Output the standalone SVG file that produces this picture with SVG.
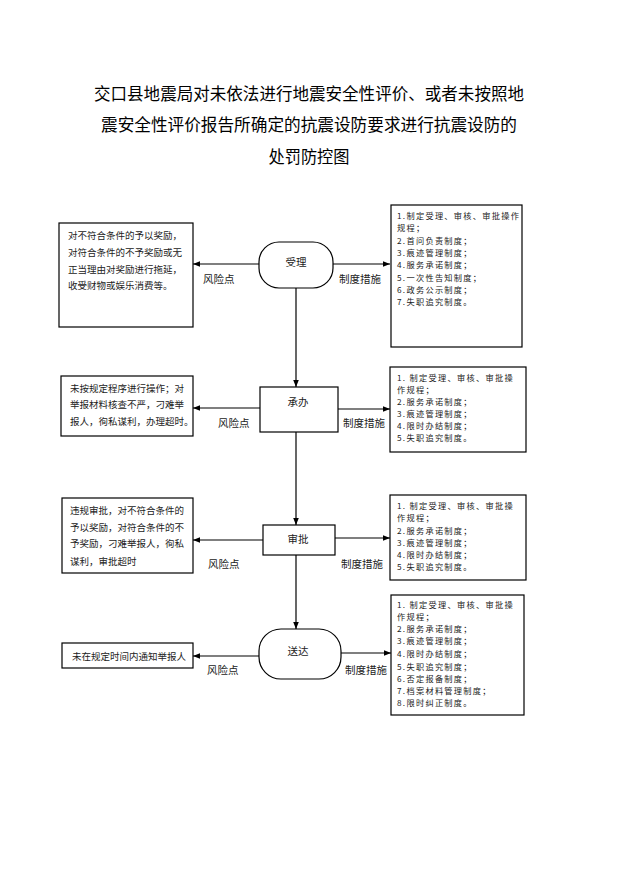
<svg xmlns="http://www.w3.org/2000/svg" width="621" height="878" viewBox="0 0 621 878">
<defs>
<marker id="ah" viewBox="0 0 10 10" refX="10" refY="5" markerWidth="7" markerHeight="7" markerUnits="userSpaceOnUse" orient="auto">
<path d="M0,1 L10,5 L0,9 z" fill="#000"/>
</marker>
<style>
.t{font-family:"Noto Sans CJK SC","Liberation Serif",serif;font-size:16.5px;fill:#000;text-anchor:middle}
.b{fill:#fff;stroke:#000;stroke-width:1.2}
.s{font-family:"Noto Sans CJK SC","Liberation Sans",sans-serif;font-size:9.5px;fill:#222}
.m{font-family:"Noto Sans CJK SC","Liberation Sans",sans-serif;font-size:8.2px;letter-spacing:1.3px;fill:#222}
.n{font-family:"Noto Sans CJK SC","Liberation Sans",sans-serif;font-size:10.5px;fill:#222;text-anchor:middle}
.l{font-family:"Noto Sans CJK SC","Liberation Sans",sans-serif;font-size:10.5px;fill:#222}
.c{fill:none;stroke:#000;stroke-width:1.2}
</style>
</defs>
<rect width="621" height="878" fill="#fff"/>
<g id="title">
<text class="t" x="309" y="100" textLength="430" lengthAdjust="spacingAndGlyphs">交口县地震局对未依法进行地震安全性评价、或者未按照地</text>
<text class="t" x="309" y="131" textLength="416" lengthAdjust="spacingAndGlyphs">震安全性评价报告所确定的抗震设防要求进行抗震设防的</text>
<text class="t" x="309" y="163" textLength="81" lengthAdjust="spacingAndGlyphs">处罚防控图</text>
</g>
<g id="connectors">
<line class="c" x1="296" y1="288" x2="296" y2="387" marker-end="url(#ah)"/>
<line class="c" x1="296" y1="432" x2="296" y2="525" marker-end="url(#ah)"/>
<line class="c" x1="296" y1="555" x2="296" y2="629" marker-end="url(#ah)"/>
<line class="c" x1="259" y1="264" x2="193" y2="264" marker-end="url(#ah)"/>
<line class="c" x1="333" y1="264" x2="390" y2="264" marker-end="url(#ah)"/>
<line class="c" x1="260" y1="408" x2="193" y2="408" marker-end="url(#ah)"/>
<line class="c" x1="338" y1="409" x2="390" y2="409" marker-end="url(#ah)"/>
<line class="c" x1="263" y1="540" x2="193" y2="540" marker-end="url(#ah)"/>
<line class="c" x1="335" y1="538" x2="390" y2="538" marker-end="url(#ah)"/>
<line class="c" x1="259" y1="656" x2="193" y2="656" marker-end="url(#ah)"/>
<line class="c" x1="341" y1="653" x2="391" y2="653" marker-end="url(#ah)"/>
<text class="l" x="203" y="283">风险点</text>
<text class="l" x="339" y="283">制度措施</text>
<text class="l" x="218" y="427">风险点</text>
<text class="l" x="343" y="427">制度措施</text>
<text class="l" x="208" y="568">风险点</text>
<text class="l" x="341" y="568">制度措施</text>
<text class="l" x="207" y="674">风险点</text>
<text class="l" x="345" y="674">制度措施</text>
</g>
<g id="node-shouli">
<rect class="b" x="259" y="242" width="74" height="46" rx="20" ry="20"/>
<text class="n" x="296" y="266">受理</text>
</g>
<g id="node-chengban">
<rect class="b" x="260" y="387" width="78" height="45"/>
<text class="n" x="298" y="406">承办</text>
</g>
<g id="node-shenpi">
<rect class="b" x="263" y="525" width="72" height="30"/>
<text class="n" x="298" y="543">审批</text>
</g>
<g id="node-songda">
<rect class="b" x="259" y="629" width="82" height="50" rx="22" ry="22"/>
<text class="n" x="298" y="655">送达</text>
</g>
<g id="risk-1">
<rect class="b" x="59" y="223" width="134" height="104"/>
<text class="s" x="68" y="239">对不符合条件的予以奖励，</text>
<text class="s" x="68" y="256">对符合条件的不予奖励或无</text>
<text class="s" x="68" y="273">正当理由对奖励进行拖延，</text>
<text class="s" x="68" y="289">收受财物或娱乐消费等。</text>
</g>
<g id="risk-2">
<rect class="b" x="61" y="376" width="132" height="60"/>
<text class="s" x="70" y="392">未按规定程序进行操作；对</text>
<text class="s" x="70" y="408">举报材料核查不严，刁难举</text>
<text class="s" x="70" y="425">报人，徇私谋利，办理超时。</text>
</g>
<g id="risk-3">
<rect class="b" x="62" y="498" width="131" height="75"/>
<text class="s" x="70" y="514">违规审批，对不符合条件的</text>
<text class="s" x="70" y="531">予以奖励，对符合条件的不</text>
<text class="s" x="70" y="547">予奖励，刁难举报人，徇私</text>
<text class="s" x="70" y="565">谋利，审批超时</text>
</g>
<g id="risk-4">
<rect class="b" x="62" y="643" width="131" height="25"/>
<text class="s" x="72" y="660">未在规定时间内通知举报人</text>
</g>
<g id="measure-1">
<rect class="b" x="391" y="205" width="131" height="142"/>
<text class="m" x="397" y="219">1.制定受理、审核、审批操作</text>
<text class="m" x="397" y="231">规程；</text>
<text class="m" x="397" y="244">2.首问负责制度；</text>
<text class="m" x="397" y="256">3.痕迹管理制度；</text>
<text class="m" x="397" y="268">4.服务承诺制度；</text>
<text class="m" x="397" y="281">5.一次性告知制度；</text>
<text class="m" x="397" y="293">6.政务公示制度；</text>
<text class="m" x="397" y="305">7.失职追究制度。</text>
</g>
<g id="measure-2">
<rect class="b" x="390" y="367" width="136" height="85"/>
<text class="m" x="397" y="381">1. 制定受理、审核、审批操</text>
<text class="m" x="397" y="393">作规程；</text>
<text class="m" x="397" y="405">2.服务承诺制度；</text>
<text class="m" x="397" y="417">3.痕迹管理制度；</text>
<text class="m" x="397" y="429">4.限时办结制度；</text>
<text class="m" x="397" y="441">5.失职追究制度。</text>
</g>
<g id="measure-3">
<rect class="b" x="390" y="495" width="136" height="85"/>
<text class="m" x="397" y="509">1. 制定受理、审核、审批操</text>
<text class="m" x="397" y="521">作规程；</text>
<text class="m" x="397" y="534">2.服务承诺制度；</text>
<text class="m" x="397" y="546">3.痕迹管理制度；</text>
<text class="m" x="397" y="558">4.限时办结制度；</text>
<text class="m" x="397" y="570">5.失职追究制度。</text>
</g>
<g id="measure-4">
<rect class="b" x="391" y="595" width="133" height="120"/>
<text class="m" x="397" y="608">1. 制定受理、审核、审批操</text>
<text class="m" x="397" y="620">作规程；</text>
<text class="m" x="397" y="632">2.服务承诺制度；</text>
<text class="m" x="397" y="644">3.痕迹管理制度；</text>
<text class="m" x="397" y="657">4.限时办结制度；</text>
<text class="m" x="397" y="670">5.失职追究制度；</text>
<text class="m" x="397" y="682">6.否定报备制度；</text>
<text class="m" x="397" y="694">7.档案材料管理制度；</text>
<text class="m" x="397" y="706">8.限时纠正制度。</text>
</g>
</svg>
